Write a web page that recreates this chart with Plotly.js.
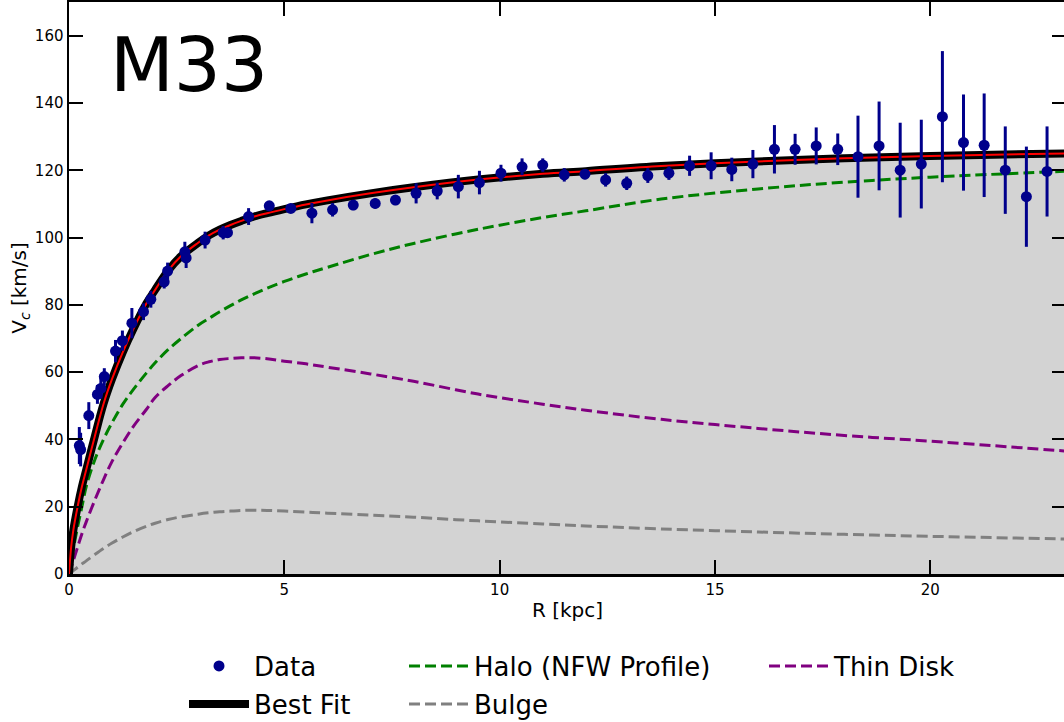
<!DOCTYPE html>
<html>
<head>
<meta charset="utf-8">
<script src="https://cdn.plot.ly/plotly-3.0.1.min.js"></script>
<style>
  html, body { margin: 0; padding: 0; overflow: hidden; background: #ffffff; }
  #chart { width: 1070px; height: 722px; }
</style>
</head>
<body>
<div id="chart"></div>
<script>
// M33 rotation curve: observed circular velocities and mass-model components
const dataR = [0.24, 0.27, 0.46, 0.66, 0.74, 0.82, 1.08, 1.24, 1.46, 1.73, 1.90, 2.21, 2.29, 2.69, 2.72,
  3.16, 3.58, 3.68, 4.17, 4.65, 5.15, 5.64, 6.12, 6.60, 7.11, 7.58, 8.06, 8.55, 9.04, 9.53,
  10.03, 10.52, 11.00, 11.50, 11.98, 12.46, 12.95, 13.44, 13.93, 14.41, 14.91, 15.39, 15.88,
  16.38, 16.86, 17.35, 17.85, 18.32, 18.81, 19.30, 19.79, 20.28, 20.77, 21.25, 21.74, 22.23, 22.71];
const dataV = [38.2, 37.0, 47.1, 53.4, 55.2, 58.7, 66.3, 69.4, 74.6, 78.0, 81.7, 86.9, 90.1, 95.8, 94.0,
  99.3, 101.5, 101.5, 106.3, 109.5, 108.7, 107.3, 108.3, 109.7, 110.2, 111.2, 113.2, 113.9, 115.2, 116.4,
  119.2, 121.1, 121.6, 118.7, 118.9, 117.2, 116.2, 118.5, 119.2, 121.4, 121.4, 120.3, 121.9,
  126.3, 126.3, 127.3, 126.3, 124.1, 127.3, 120.1, 121.9, 136.0, 128.3, 127.5, 120.1, 112.2, 119.7];
const dataErr = [5.5, 5, 4, 2.8, 3, 2.5, 3.3, 3, 4.5, 2.5, 2.5, 2, 2.5, 3, 3,
  2.5, 2, 1.5, 2.5, 1, 1, 3, 2, 1.5, 1.5, 1.5, 3, 2.5, 3.5, 3.5,
  2.5, 2.5, 2, 2, 1.5, 2, 2, 2.2, 2, 3, 4, 3.5, 4.2,
  7.2, 4.6, 5.5, 4.7, 12.2, 13.2, 14.1, 13.2, 19.5, 14.3, 15.4, 13, 14.9, 13.4];

// model radii (kpc) and component velocities (km/s)
const modelR = [0, 0.05, 0.1, 0.2, 0.3, 0.4, 0.6, 0.8, 1.0, 1.25, 1.5, 1.8, 2.0, 2.3, 2.6, 3.0, 3.25, 3.5,
  3.75, 4.0, 4.3, 4.6, 5.0, 5.5, 6.0, 7.0, 8.0, 9.5, 11, 12, 13.75, 16, 18, 20, 23.2];
const bestFitV = [0, 8, 13, 20, 26, 31, 41, 50.5, 58, 66, 73, 80.5, 84.5, 90.2, 94.5, 98.5, 100.7, 102.4,
  103.8, 105.0, 106.3, 107.3, 108.5, 109.9, 111.1, 113.2, 115.0, 117.3, 119.0, 119.8, 121.3, 122.7, 123.6, 124.3, 125.1];
const haloV = [0, 4, 7.5, 14, 20, 26, 34, 40, 45, 50.5, 55, 59.8, 62.8, 66.7, 70, 74, 76, 78,
  79.8, 81.5, 83.3, 85, 87, 89.2, 91.2, 95, 98.3, 102.5, 106, 108, 111.5, 114.5, 116.5, 118, 119.8];
const diskV = [0, 2, 4, 8, 12, 15.5, 22, 28, 33.5, 39, 44, 49, 52.5, 56, 59, 62, 63.1, 63.8,
  64.1, 64.3, 64.3, 64, 63.3, 62.5, 61.5, 59.5, 57.3, 53.5, 50.5, 48.7, 46, 43.3, 41.2, 39.5, 36.5];
const bulgeV = [0, 0.5, 1, 2, 3, 3.9, 5.8, 7.6, 9.2, 11, 12.6, 14.2, 15.1, 16.2, 17, 17.8, 18.2, 18.5,
  18.7, 18.9, 18.95, 18.9, 18.7, 18.4, 18.1, 17.5, 16.9, 15.8, 14.9, 14.3, 13.4, 12.5, 11.8, 11.2, 10.4];

const galaxyName = 'M33';
const xTickVals = [0, 5, 10, 15, 20];
const yTickVals = [0, 20, 40, 60, 80, 100, 120, 140, 160];

const FONT = 'DejaVu Sans, Liberation Sans, sans-serif';
const dashStyle = '11px,5px';

const traces = [
  { // shaded area under the fitted curve
    x: modelR, y: bestFitV, type: 'scatter', mode: 'lines',
    line: { width: 0, shape: 'spline' }, fill: 'tozeroy', fillcolor: '#d3d3d3',
    showlegend: false, hoverinfo: 'skip'
  },
  {
    x: modelR, y: bulgeV, type: 'scatter', mode: 'lines', name: 'Bulge',
    line: { color: '#808080', width: 3, dash: dashStyle, shape: 'spline' },
    legend: 'legend4'
  },
  {
    x: modelR, y: diskV, type: 'scatter', mode: 'lines', name: 'Thin Disk',
    line: { color: '#800080', width: 3, dash: dashStyle, shape: 'spline' },
    legend: 'legend5'
  },
  {
    x: modelR, y: haloV, type: 'scatter', mode: 'lines', name: 'Halo (NFW Profile)',
    line: { color: '#008000', width: 3, dash: dashStyle, shape: 'spline' },
    legend: 'legend3'
  },
  {
    x: modelR, y: bestFitV, type: 'scatter', mode: 'lines', name: 'Best Fit',
    line: { color: '#000000', width: 8, shape: 'spline' },
    legend: 'legend2'
  },
  {
    x: modelR, y: bestFitV, type: 'scatter', mode: 'lines', name: 'Best Fit',
    line: { color: '#ff0000', width: 2, shape: 'spline' },
    showlegend: false
  },
  {
    x: dataR, y: dataV, type: 'scatter', mode: 'markers', name: 'Data',
    marker: { color: '#00008b', size: 11 },
    error_y: { type: 'data', array: dataErr, visible: true, color: '#00008b', thickness: 3, width: 0 },
    legend: 'legend'
  }
];

const plotL = 69, plotR = 1066, plotT = 2, plotB = 574;
const pw = plotR - plotL, ph = plotB - plotT;
const px2x = p => (p - plotL) / pw;
const px2y = p => (plotB - p) / ph;

function legendAt(xpx, ypx) {
  return {
    x: px2x(xpx), y: px2y(ypx), xanchor: 'left', yanchor: 'middle',
    bgcolor: 'rgba(0,0,0,0)', borderwidth: 0, itemwidth: 60,
    font: { family: FONT, size: 26, color: '#000000' }
  };
}

const axisCommon = {
  showgrid: false, zeroline: false, showline: true, linecolor: '#000000', linewidth: 2.5,
  mirror: 'ticks', ticks: 'inside', ticklen: 14, tickwidth: 2, tickcolor: '#000000',
  tickfont: { family: FONT, size: 15, color: '#000000' }
};

const layout = {
  width: 1070, height: 722,
  margin: { l: plotL, r: 1070 - plotR, t: plotT, b: 722 - plotB, pad: 0, autoexpand: false },
  paper_bgcolor: '#ffffff', plot_bgcolor: '#ffffff',
  font: { family: FONT, color: '#000000' },
  xaxis: Object.assign({}, axisCommon, {
    range: [0, 23.15], tickvals: xTickVals, ticktext: xTickVals.map(String),
    title: { text: 'R [kpc]', font: { family: FONT, size: 20 }, standoff: 6 }
  }),
  yaxis: Object.assign({}, axisCommon, {
    range: [0, 170.1], tickvals: yTickVals, ticktext: yTickVals.map(String),
    title: { text: 'V<sub><i>c</i></sub> [km/s]', font: { family: FONT, size: 20 }, standoff: 3 }
  }),
  legend: legendAt(184, 666),
  legend2: legendAt(184, 704),
  legend3: legendAt(404, 666),
  legend4: legendAt(404, 704),
  legend5: legendAt(764, 666),
  annotations: [{
    text: galaxyName, xref: 'paper', yref: 'paper', x: px2x(108), y: px2y(65),
    xanchor: 'left', yanchor: 'middle', showarrow: false,
    font: { family: FONT, size: 74, color: '#000000' }
  }]
};

Plotly.newPlot('chart', traces, layout, { displayModeBar: false, staticPlot: true });
</script>
</body>
</html>
